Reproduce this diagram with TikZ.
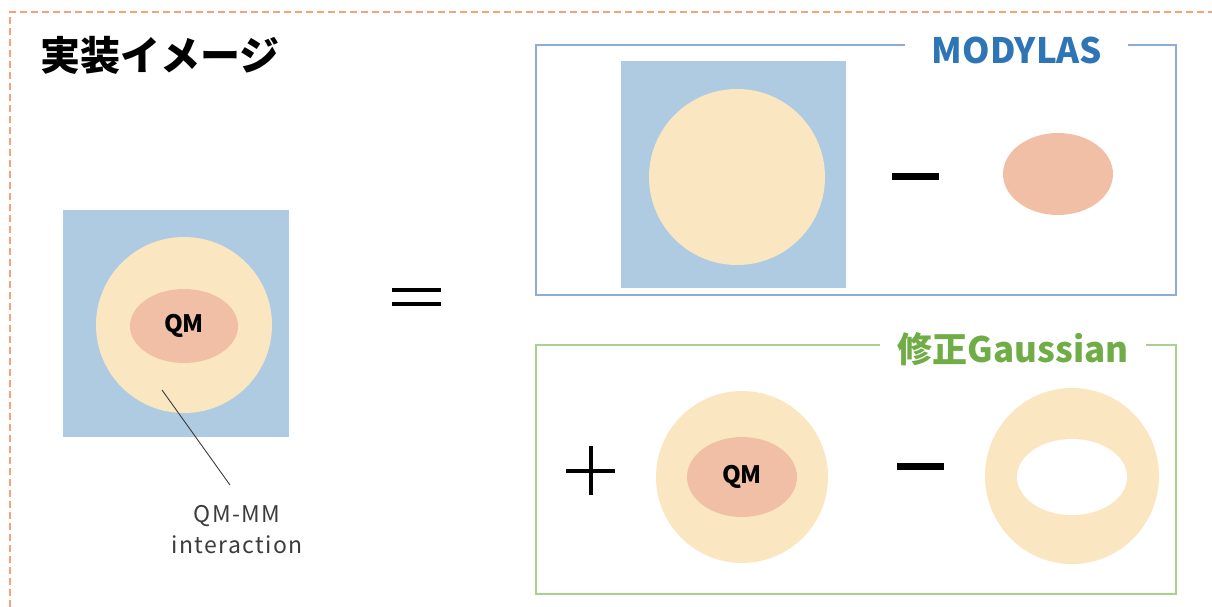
\documentclass[tikz,border=0pt]{standalone}
\usepackage{fontspec}
\usetikzlibrary{shapes.geometric}
\newfontfamily\jp{Noto Sans CJK JP}
\definecolor{mmblue}{RGB}{174,203,226}
\definecolor{mmyel}{RGB}{250,231,193}
\definecolor{qmred}{RGB}{241,191,165}
\definecolor{frblue}{RGB}{143,170,220}
\definecolor{frgreen}{RGB}{169,209,142}
\definecolor{ttblue}{RGB}{46,117,182}
\definecolor{ttgreen}{RGB}{112,173,71}
\definecolor{dashor}{RGB}{244,164,120}
\definecolor{lblgray}{RGB}{60,60,60}
\tikzset{
  mmsq/.style={rectangle, fill=mmblue, inner sep=0pt},
  mmdisk/.style={circle, fill=mmyel, inner sep=0pt},
  qmell/.style={ellipse, fill=qmred, inner sep=0pt, font=\jp\bfseries\fontsize{24}{28}\selectfont},
  opbar/.style={line width=4.5pt, black},
  opbarthick/.style={line width=7pt, black},
  frame/.style={line width=1.6pt},
}
\begin{document}
\begin{tikzpicture}[x=1pt,y=-1pt]
\useasboundingbox (0,0) rectangle (1212,607);
% outer dashed border
\draw[dashor, line width=1.5pt, dash pattern=on 7pt off 4pt] (10,607) -- (10,12) -- (1212,12);
% title
\node[anchor=west, inner sep=0pt, font=\jp\bfseries\fontsize{40}{48}\selectfont] (title) at (40,55) {実装イメージ};
% left panel
\node[mmsq, minimum width=226pt, minimum height=227pt] (sqL) at (176,323.5) {};
\node[mmdisk, minimum size=176pt] (circL) at (184,325) {};
\node[qmell, minimum width=108pt, minimum height=74pt] (qmL) at (184,326) {QM};
\coordinate (lp1) at (162,390);
\coordinate (lp2) at (230,485);
\draw[line width=0.9pt, lblgray] (lp1) -- (lp2);
\node[align=center, inner sep=0pt, text=lblgray, font=\jp\addfontfeature{LetterSpace=6}\fontsize{23}{31}\selectfont] (lab) at (237,530) {QM-MM\\interaction};
% equals
\coordinate (e1a) at (392,290); \coordinate (e1b) at (441,290);
\coordinate (e2a) at (392,304); \coordinate (e2b) at (441,304);
\draw[opbar] (e1a) -- (e1b);
\draw[opbar] (e2a) -- (e2b);
% MODYLAS box
\node[inner sep=0pt, text=ttblue, font=\jp\bfseries\fontsize{35}{40}\selectfont] (tmod) at (1017,50) {MODYLAS};
\draw[frame, frblue] (905,45) -- (536,45) -- (536,295) -- (1176,295) -- (1176,45) -- (1128,45);
\node[mmsq, minimum width=225pt, minimum height=227pt] (sqM) at (733.5,174.5) {};
\node[mmdisk, minimum size=176pt] (circM) at (737,177) {};
\coordinate (m1a) at (892,176); \coordinate (m1b) at (939,176);
\draw[opbarthick] (m1a) -- (m1b);
\node[qmell, minimum width=110pt, minimum height=82pt] (qmM) at (1058,174) {};
% Gaussian box
\node[inner sep=0pt, text=ttgreen, font=\jp\bfseries\fontsize{35}{40}\selectfont] (tgau) at (1013,349) {修正Gaussian};
\draw[frame, frgreen] (880,345) -- (536,345) -- (536,594) -- (1176,594) -- (1176,345) -- (1146,345);
\coordinate (pha) at (566,471); \coordinate (phb) at (615,471);
\coordinate (pva) at (591,446); \coordinate (pvb) at (591,495);
\draw[opbar, line width=4pt] (pha) -- (phb);
\draw[opbar, line width=4pt] (pva) -- (pvb);
\node[mmdisk, minimum size=172pt] (circG) at (742,477) {};
\node[qmell, minimum width=110pt, minimum height=80pt] (qmG) at (742,477) {QM};
\coordinate (m2a) at (897,466); \coordinate (m2b) at (944,466);
\draw[opbarthick] (m2a) -- (m2b);
\node[ellipse, fill=mmyel, inner sep=0pt, minimum width=174pt, minimum height=176pt] (ringO) at (1072,476) {};
\node[ellipse, fill=white, inner sep=0pt, minimum width=110pt, minimum height=76pt] (ringI) at (1072,477) {};
\end{tikzpicture}
\end{document}
